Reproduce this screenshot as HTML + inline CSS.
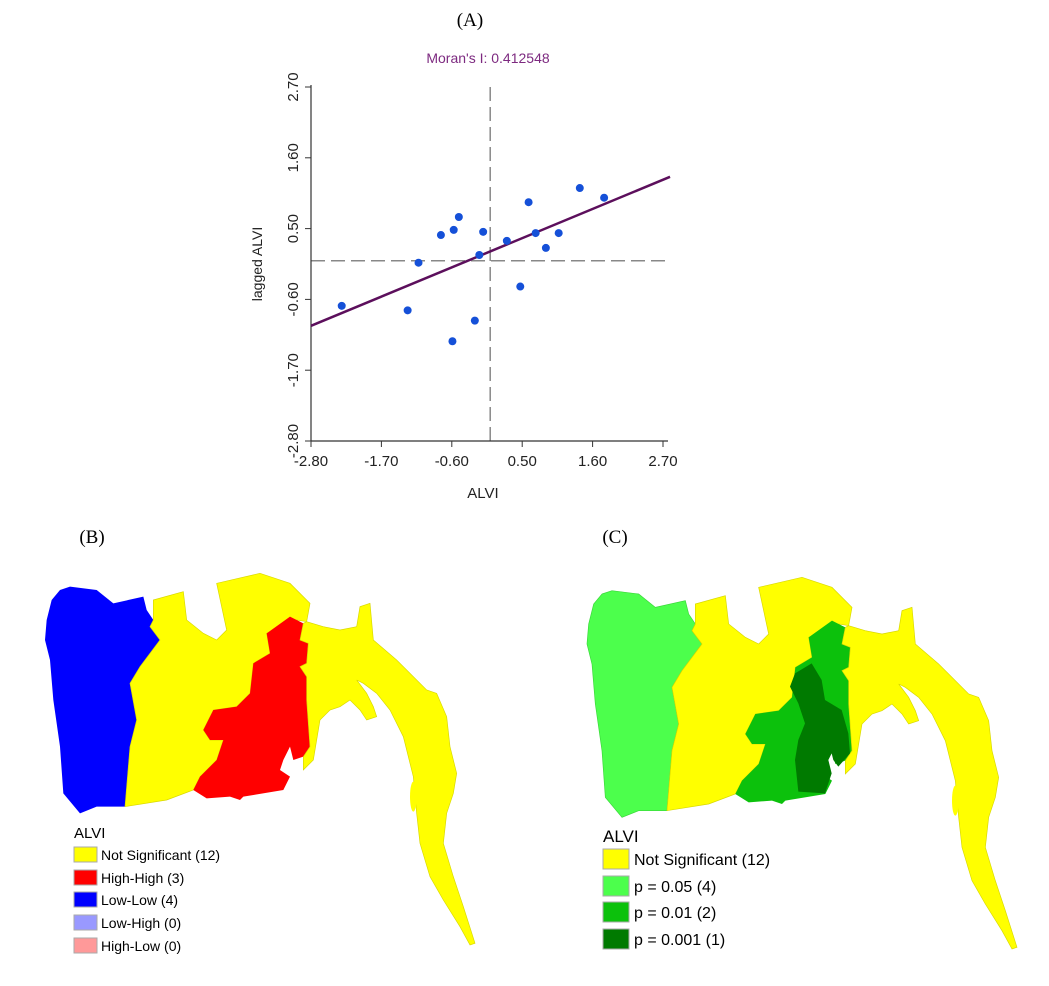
<!DOCTYPE html>
<html><head><meta charset="utf-8"><style>
body{margin:0;background:#fff;}
svg text{font-family:"Liberation Sans",sans-serif;}
.serif{font-family:"Liberation Serif",serif;}
</style></head><body>
<svg width="1049" height="981" viewBox="0 0 1049 981" xmlns="http://www.w3.org/2000/svg">
<text class="serif" x="470" y="26" font-size="19" text-anchor="middle">(A)</text>
<text class="serif" x="92" y="543" font-size="19" text-anchor="middle">(B)</text>
<text class="serif" x="615" y="543" font-size="19" text-anchor="middle">(C)</text>
<g id="scatter"></g>

<g transform="translate(30,560) scale(0.33333)">
<polygon fill="#0000ff" points="90,90 120,80 200,90 250,130 340,110 350,150 370,180 360,200 390,240 330,320 300,370 320,480 300,560 285,740 200,740 150,760 100,700 90,560 70,420 60,300 45,240 50,180 65,120"/>
<polygon fill="#ffff00" stroke="#d8d800" stroke-width="2" points="370,120 460,95 470,180 520,220 560,240 590,210 560,70 690,40 780,70 840,130 830,185 800,180 710,220 720,280 670,310 660,400 620,440 550,450 520,510 540,540 580,540 560,600 510,650 490,690 410,720 285,740 300,560 320,480 300,370 330,320 390,240 360,200 370,180"/>
<polygon fill="#ff0000" points="780,170 820,190 810,240 835,250 830,310 810,320 830,350 830,420 840,560 820,590 790,600 780,560 760,600 750,630 780,650 760,690 640,710 630,720 600,710 530,715 490,690 510,650 560,600 580,540 540,540 520,510 550,450 620,440 660,400 670,310 720,280 710,220"/>
<polygon fill="#ffff00" stroke="#d8d800" stroke-width="2" points="830,185 880,200 930,210 980,200 990,140 1020,130 1030,240 1100,300 1190,390 1220,400 1250,470 1260,560 1280,640 1270,700 1250,760 1240,850 1270,950 1300,1040 1335,1150 1320,1155 1290,1100 1240,1020 1200,950 1170,850 1160,760 1150,650 1120,530 1080,450 1040,400 1000,370 980,360 1010,400 1030,440 1040,470 1010,480 990,450 960,420 930,440 900,450 870,480 850,600 820,630 820,590 840,560 830,420 830,350 810,320 830,310 835,250 810,240 820,190"/>
<ellipse cx="1150" cy="710" rx="10" ry="45" fill="#ffff00"/>
</g>

<g transform="translate(572,564) scale(0.33333)">
<polygon fill="#4cff4c" stroke="#3ad83a" stroke-width="2" points="90,90 120,80 200,90 250,130 340,110 350,150 370,180 360,200 390,240 330,320 300,370 320,480 300,560 285,740 200,740 150,760 100,700 90,560 70,420 60,300 45,240 50,180 65,120"/>
<polygon fill="#ffff00" stroke="#d8d800" stroke-width="2" points="370,120 460,95 470,180 520,220 560,240 590,210 560,70 690,40 780,70 840,130 830,185 800,180 710,220 720,280 670,310 660,400 620,440 550,450 520,510 540,540 580,540 560,600 510,650 490,690 410,720 285,740 300,560 320,480 300,370 330,320 390,240 360,200 370,180"/>
<polygon fill="#0cc10c" points="780,170 820,190 810,240 835,250 830,310 810,320 830,350 830,420 840,560 820,590 790,600 780,560 760,600 750,630 780,650 760,690 640,710 630,720 600,710 530,715 490,690 510,650 560,600 580,540 540,540 520,510 550,450 620,440 660,400 670,310 720,280 710,220"/>
<polygon fill="#ffff00" stroke="#d8d800" stroke-width="2" points="830,185 880,200 930,210 980,200 990,140 1020,130 1030,240 1100,300 1190,390 1220,400 1250,470 1260,560 1280,640 1270,700 1250,760 1240,850 1270,950 1300,1040 1335,1150 1320,1155 1290,1100 1240,1020 1200,950 1170,850 1160,760 1150,650 1120,530 1080,450 1040,400 1000,370 980,360 1010,400 1030,440 1040,470 1010,480 990,450 960,420 930,440 900,450 870,480 850,600 820,630 820,590 840,560 830,420 830,350 810,320 830,310 835,250 810,240 820,190"/>
<ellipse cx="1150" cy="710" rx="10" ry="45" fill="#ffff00"/>
<polygon fill="#007a00" points="669,328 719,298 749,348 759,408 809,438 829,508 834,568 799,608 784,588 779,568 769,588 779,628 759,688 679,683 669,588 679,528 699,478 679,418 654,368"/>
</g>

<g font-size="14">
<text x="74" y="838" font-size="15">ALVI</text>
<g><rect x="74" y="847" width="23" height="15" fill="#ffff00" stroke="#aaa"/><text x="101" y="860">Not Significant (12)</text></g>
<g><rect x="74" y="870" width="23" height="15" fill="#ff0000" stroke="#aaa"/><text x="101" y="883">High-High (3)</text></g>
<g><rect x="74" y="892" width="23" height="15" fill="#0000ff" stroke="#aaa"/><text x="101" y="905">Low-Low (4)</text></g>
<g><rect x="74" y="915" width="23" height="15" fill="#9999ff" stroke="#aaa"/><text x="101" y="928">Low-High (0)</text></g>
<g><rect x="74" y="938" width="23" height="15" fill="#ff9999" stroke="#aaa"/><text x="101" y="951">High-Low (0)</text></g>
</g>
<g font-size="16">
<text x="603" y="842" font-size="17">ALVI</text>
<g><rect x="603" y="849" width="26" height="20" fill="#ffff00" stroke="#aaa"/><text x="634" y="865">Not Significant (12)</text></g>
<g><rect x="603" y="876" width="26" height="20" fill="#4cff4c" stroke="#aaa"/><text x="634" y="892">p = 0.05 (4)</text></g>
<g><rect x="603" y="902" width="26" height="20" fill="#0cc10c" stroke="#aaa"/><text x="634" y="918">p = 0.01 (2)</text></g>
<g><rect x="603" y="929" width="26" height="20" fill="#007a00" stroke="#aaa"/><text x="634" y="945">p = 0.001 (1)</text></g>
</g>
</svg>
<script>
const xValues=[-2.32,-1.29,-1.12,-0.77,-0.57,-0.49,-0.59,-0.24,-0.17,-0.11,0.26,0.47,0.60,0.71,0.87,1.07,1.40,1.78];
const yValues=[-0.70,-0.77,-0.03,0.40,0.48,0.68,-1.25,-0.93,0.09,0.45,0.31,-0.40,0.91,0.43,0.20,0.43,1.13,0.98];
const tickLabels=["-2.80","-1.70","-0.60","0.50","1.60","2.70"];
const tickValues=[-2.8,-1.7,-0.6,0.5,1.6,2.7];
const slope=[0.412548];
const intercept=[0.145];
const NS="http://www.w3.org/2000/svg";
const g=document.getElementById('scatter');
const X0=311,X1=663,Y0=441,Y1=87,MIN=-2.8,MAX=2.7;
function sx(v){return X0+(v-MIN)/(MAX-MIN)*(X1-X0);}
function sy(v){return Y0-(v-MIN)/(MAX-MIN)*(Y0-Y1);}
function mk(t,a,p){const e=document.createElementNS(NS,t);for(const k in a)e.setAttribute(k,a[k]);(p||g).appendChild(e);return e;}
let e;
e=mk('line',{x1:sx(0),y1:Y1,x2:sx(0),y2:Y0,stroke:'#888','stroke-width':1.5,'stroke-dasharray':'14 6'});


e=mk('line',{x1:X0,y1:sy(0),x2:668,y2:sy(0),stroke:'#888','stroke-width':1.5,'stroke-dasharray':'14 6'});


e=mk('line',{x1:X0,y1:Y1-2,x2:X0,y2:Y0,stroke:'#333','stroke-width':1.2});


e=mk('line',{x1:X0,y1:Y0,x2:668,y2:Y0,stroke:'#333','stroke-width':1.2});


tickValues.forEach((v,i)=>{
  let t=mk('line',{x1:sx(v),y1:Y0,x2:sx(v),y2:Y0+6,stroke:'#333'});
  
  
  t=mk('text',{x:sx(v),y:Y0+25,'font-size':15,'text-anchor':'middle',fill:'#222'});
  t.textContent=tickLabels[i];
  
  
  t=mk('line',{x1:X0-6,y1:sy(v),x2:X0,y2:sy(v),stroke:'#333'});
  
  
  t=mk('text',{x:0,y:0,'font-size':15,'text-anchor':'middle',fill:'#222',transform:`translate(${X0-13},${sy(v)}) rotate(-90)`});
  t.textContent=tickLabels[i];
  
  
});
const lx0=MIN,lx1=2.81;
e=mk('line',{x1:sx(lx0),y1:sy(intercept[0]+slope[0]*lx0),x2:sx(lx1),y2:sy(intercept[0]+slope[0]*lx1),stroke:'#5c0f5c','stroke-width':2.5});


xValues.forEach((v,i)=>{
  const c=mk('circle',{cx:sx(v),cy:sy(yValues[i]),r:4,fill:'#1550d8'});
  
  
});
e=mk('text',{x:488,y:63,'font-size':14,'text-anchor':'middle',fill:'#7d2a80'});
e.textContent="Moran's I: 0.412548";


e=mk('text',{x:483,y:498,'font-size':15,'text-anchor':'middle',fill:'#222'});
e.textContent="ALVI";


e=mk('text',{x:0,y:0,'font-size':14,'text-anchor':'middle',fill:'#222',transform:'translate(262,264) rotate(-90)'});
e.textContent="lagged ALVI";


</script>
</body></html>
